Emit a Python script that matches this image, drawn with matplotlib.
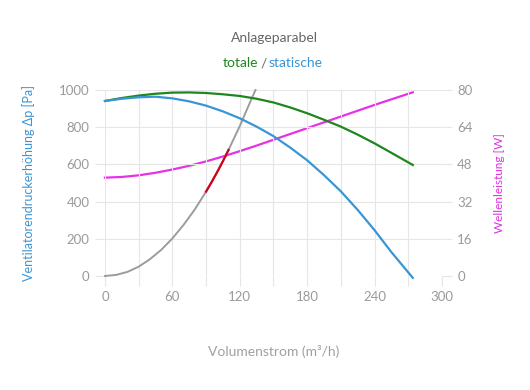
import matplotlib.pyplot as plt

plt.rcParams['font.family'] = ['Lato', 'DejaVu Sans']

# Volumenstrom (m3/h)
flow = [0, 15, 30, 45, 60, 75, 90, 105, 120, 135, 150, 165, 180, 195, 210, 225, 240, 255, 274]
# totale Druckerhoehung [Pa]
total = [941, 957, 970, 980, 986, 987, 984, 977, 968, 953, 933, 906, 875, 840, 803, 760, 713, 662, 597]
# statische Druckerhoehung [Pa]
static = [941, 953, 961, 964, 955, 939, 916, 885, 848, 803, 752, 690, 622, 542, 455, 355, 246, 128, -10]
# Wellenleistung [W]
power = [42.3, 42.6, 43.3, 44.4, 45.8, 47.4, 49.3, 51.4, 53.7, 56.1, 58.6, 61.1, 63.6, 66.1, 68.6, 71.1, 73.6, 76.0, 79.0]

# Anlageparabel
sys_flow = [0, 10, 20, 30, 40, 50, 60, 70, 80, 90, 100, 110, 120, 130, 134]
sys_dp = [0, 6, 22, 50, 90, 140, 202, 275, 358, 454, 560, 678, 806, 946, 1000]
# Betriebsbereich auf der Anlageparabel
op_flow = [90, 95, 100, 105, 110]
op_dp = [454, 505, 560, 617, 678]

grid_c = '#e6e6e6'
tick_c = '#9a9a9a'
green = '#1f861f'
blue = '#3a95d5'

fig = plt.figure(figsize=(5.3, 3.9), dpi=100)
ax = fig.add_axes([0.198, 0.2923, 0.636, 0.4769])
ax2 = ax.twinx()

ax.plot(sys_flow, sys_dp, color='#9c9c9c', linewidth=1.4, clip_on=False, zorder=3)
ax.plot(op_flow, op_dp, color='#d0021b', linewidth=1.6, clip_on=False, zorder=4)
ax.plot(flow, total, color=green, linewidth=1.6, clip_on=False, zorder=3)
ax.plot(flow, static, color=blue, linewidth=1.6, clip_on=False, zorder=3)
ax2.plot(flow, power, color='#e632e6', linewidth=1.6, clip_on=False)

ax.set_xlim(0, 300)
ax.set_ylim(0, 1000)
ax2.set_ylim(0, 80)
ax.set_xticks(range(0, 301, 30))
ax.set_xticklabels([str(v) if v % 60 == 0 else '' for v in range(0, 301, 30)])
ax.set_yticks(range(0, 1001, 200))
ax2.set_yticks(range(0, 81, 16))

ax.grid(True, color=grid_c, linewidth=0.8)
for a in (ax, ax2):
    for s in a.spines.values():
        s.set_visible(False)
    a.tick_params(length=7, width=0.8, color=grid_c, labelcolor=tick_c, labelsize=9.5, pad=4)
ax.patch.set_visible(False)
ax.set_zorder(ax2.get_zorder() + 1)

ax.set_xlabel('Volumenstrom (m³/h)', color='#a0a0a0', fontsize=10, labelpad=30)
ax.set_ylabel('Ventilatorendruckerhöhung Δp [Pa]', color=blue, fontsize=9, labelpad=17)
ax2.set_ylabel('Wellenleistung [W]', color='#e030e0', fontsize=8.5, labelpad=15)

fig.text(0.517, 0.902, 'Anlageparabel', ha='center', va='center', color='#666666', fontsize=10)
fig.text(0.487, 0.838, 'totale', ha='right', va='center', color=green, fontsize=10)
fig.text(0.497, 0.838, '/', ha='center', va='center', color='#666666', fontsize=10)
fig.text(0.5075, 0.838, 'statische', ha='left', va='center', color=blue, fontsize=10)

fig.savefig('out.png', dpi=100)
